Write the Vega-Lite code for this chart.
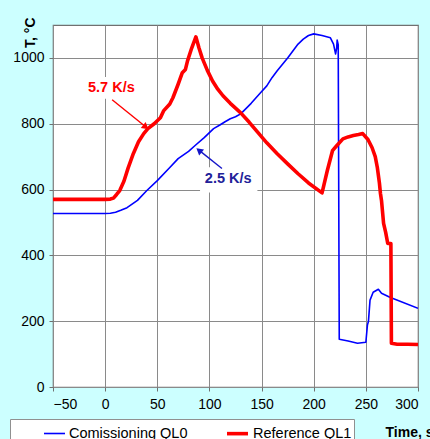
{
  "$schema": "https://vega.github.io/schema/vega-lite/v6.json",
  "width": 365,
  "height": 362,
  "autosize": {"type": "none"},
  "padding": {"left": 53, "top": 25, "right": 12, "bottom": 52},
  "background": "#CCFFFF",
  "config": {
    "font": "Liberation Sans",
    "view": {"fill": "white", "stroke": "#707070", "strokeWidth": 1.2},
    "axis": {
      "gridColor": "#8a8a8a", "gridWidth": 1, "gridOpacity": 1,
      "domain": false, "tickColor": "#707070", "tickSize": 4,
      "labelFont": "Liberation Sans", "labelFontSize": 14, "labelColor": "black",
      "titleFont": "Liberation Sans", "titleFontSize": 14, "titleFontWeight": "bold", "titleColor": "black"
    }
  },
  "datasets": {
    "curves": [
      {"t": -50, "T": 527, "s": "Comissioning QL0"},
      {"t": 0, "T": 527, "s": "Comissioning QL0"},
      {"t": 5, "T": 528, "s": "Comissioning QL0"},
      {"t": 10, "T": 531, "s": "Comissioning QL0"},
      {"t": 15, "T": 537, "s": "Comissioning QL0"},
      {"t": 21, "T": 545, "s": "Comissioning QL0"},
      {"t": 31, "T": 567, "s": "Comissioning QL0"},
      {"t": 40, "T": 597, "s": "Comissioning QL0"},
      {"t": 50, "T": 627, "s": "Comissioning QL0"},
      {"t": 62, "T": 667, "s": "Comissioning QL0"},
      {"t": 70, "T": 694, "s": "Comissioning QL0"},
      {"t": 80, "T": 716, "s": "Comissioning QL0"},
      {"t": 86, "T": 733, "s": "Comissioning QL0"},
      {"t": 95, "T": 758, "s": "Comissioning QL0"},
      {"t": 104, "T": 785, "s": "Comissioning QL0"},
      {"t": 110, "T": 796, "s": "Comissioning QL0"},
      {"t": 115, "T": 806, "s": "Comissioning QL0"},
      {"t": 120, "T": 815, "s": "Comissioning QL0"},
      {"t": 125, "T": 821, "s": "Comissioning QL0"},
      {"t": 130, "T": 830, "s": "Comissioning QL0"},
      {"t": 140, "T": 862, "s": "Comissioning QL0"},
      {"t": 149, "T": 894, "s": "Comissioning QL0"},
      {"t": 155, "T": 915, "s": "Comissioning QL0"},
      {"t": 160, "T": 940, "s": "Comissioning QL0"},
      {"t": 165, "T": 961, "s": "Comissioning QL0"},
      {"t": 175, "T": 1000, "s": "Comissioning QL0"},
      {"t": 185, "T": 1042, "s": "Comissioning QL0"},
      {"t": 190, "T": 1057, "s": "Comissioning QL0"},
      {"t": 195, "T": 1068, "s": "Comissioning QL0"},
      {"t": 200, "T": 1073, "s": "Comissioning QL0"},
      {"t": 208, "T": 1068, "s": "Comissioning QL0"},
      {"t": 216, "T": 1061, "s": "Comissioning QL0"},
      {"t": 219, "T": 1042, "s": "Comissioning QL0"},
      {"t": 221, "T": 1012, "s": "Comissioning QL0"},
      {"t": 222, "T": 1030, "s": "Comissioning QL0"},
      {"t": 222.5, "T": 1054, "s": "Comissioning QL0"},
      {"t": 223.5, "T": 1040, "s": "Comissioning QL0"},
      {"t": 224.5, "T": 145, "s": "Comissioning QL0"},
      {"t": 233, "T": 140, "s": "Comissioning QL0"},
      {"t": 242, "T": 133, "s": "Comissioning QL0"},
      {"t": 250, "T": 136, "s": "Comissioning QL0"},
      {"t": 251.5, "T": 188, "s": "Comissioning QL0"},
      {"t": 252.5, "T": 200, "s": "Comissioning QL0"},
      {"t": 254, "T": 264, "s": "Comissioning QL0"},
      {"t": 257, "T": 288, "s": "Comissioning QL0"},
      {"t": 262, "T": 297, "s": "Comissioning QL0"},
      {"t": 265, "T": 285, "s": "Comissioning QL0"},
      {"t": 273, "T": 273, "s": "Comissioning QL0"},
      {"t": 300, "T": 239, "s": "Comissioning QL0"},
      {"t": -50, "T": 570, "s": "Reference QL1"},
      {"t": 0, "T": 570, "s": "Reference QL1"},
      {"t": 5, "T": 571, "s": "Reference QL1"},
      {"t": 8, "T": 574, "s": "Reference QL1"},
      {"t": 11, "T": 585, "s": "Reference QL1"},
      {"t": 14, "T": 597, "s": "Reference QL1"},
      {"t": 18, "T": 625, "s": "Reference QL1"},
      {"t": 22, "T": 665, "s": "Reference QL1"},
      {"t": 27, "T": 709, "s": "Reference QL1"},
      {"t": 32, "T": 745, "s": "Reference QL1"},
      {"t": 37, "T": 770, "s": "Reference QL1"},
      {"t": 41, "T": 785, "s": "Reference QL1"},
      {"t": 47, "T": 800, "s": "Reference QL1"},
      {"t": 53, "T": 818, "s": "Reference QL1"},
      {"t": 56, "T": 839, "s": "Reference QL1"},
      {"t": 62, "T": 860, "s": "Reference QL1"},
      {"t": 65, "T": 879, "s": "Reference QL1"},
      {"t": 70, "T": 920, "s": "Reference QL1"},
      {"t": 74, "T": 955, "s": "Reference QL1"},
      {"t": 77, "T": 965, "s": "Reference QL1"},
      {"t": 79, "T": 991, "s": "Reference QL1"},
      {"t": 83, "T": 1030, "s": "Reference QL1"},
      {"t": 87, "T": 1064, "s": "Reference QL1"},
      {"t": 90, "T": 1030, "s": "Reference QL1"},
      {"t": 93, "T": 1000, "s": "Reference QL1"},
      {"t": 98, "T": 962, "s": "Reference QL1"},
      {"t": 103, "T": 930, "s": "Reference QL1"},
      {"t": 108, "T": 905, "s": "Reference QL1"},
      {"t": 113, "T": 885, "s": "Reference QL1"},
      {"t": 120, "T": 862, "s": "Reference QL1"},
      {"t": 130, "T": 833, "s": "Reference QL1"},
      {"t": 138, "T": 805, "s": "Reference QL1"},
      {"t": 146, "T": 775, "s": "Reference QL1"},
      {"t": 155, "T": 742, "s": "Reference QL1"},
      {"t": 165, "T": 709, "s": "Reference QL1"},
      {"t": 175, "T": 678, "s": "Reference QL1"},
      {"t": 185, "T": 648, "s": "Reference QL1"},
      {"t": 195, "T": 620, "s": "Reference QL1"},
      {"t": 208, "T": 590, "s": "Reference QL1"},
      {"t": 213, "T": 657, "s": "Reference QL1"},
      {"t": 218, "T": 718, "s": "Reference QL1"},
      {"t": 222, "T": 733, "s": "Reference QL1"},
      {"t": 228, "T": 754, "s": "Reference QL1"},
      {"t": 233, "T": 760, "s": "Reference QL1"},
      {"t": 238, "T": 764, "s": "Reference QL1"},
      {"t": 243, "T": 767, "s": "Reference QL1"},
      {"t": 247, "T": 770, "s": "Reference QL1"},
      {"t": 252, "T": 752, "s": "Reference QL1"},
      {"t": 256, "T": 727, "s": "Reference QL1"},
      {"t": 259, "T": 700, "s": "Reference QL1"},
      {"t": 261, "T": 667, "s": "Reference QL1"},
      {"t": 263, "T": 620, "s": "Reference QL1"},
      {"t": 264, "T": 588, "s": "Reference QL1"},
      {"t": 265, "T": 567, "s": "Reference QL1"},
      {"t": 267, "T": 497, "s": "Reference QL1"},
      {"t": 269, "T": 470, "s": "Reference QL1"},
      {"t": 271, "T": 436, "s": "Reference QL1"},
      {"t": 274, "T": 436, "s": "Reference QL1"},
      {"t": 274.5, "T": 133, "s": "Reference QL1"},
      {"t": 280, "T": 130, "s": "Reference QL1"},
      {"t": 290, "T": 130, "s": "Reference QL1"},
      {"t": 300, "T": 129, "s": "Reference QL1"}
    ]
  },
  "encoding": {
    "x": {"type": "quantitative"},
    "y": {"type": "quantitative"}
  },
  "layer": [
    {
      "data": {"values": [
        {"t1": -18, "t2": 31, "T1": 876, "T2": 942},
        {"t1": 91, "t2": 146, "T1": 591, "T2": 668}
      ]},
      "mark": {"type": "rect", "color": "white"},
      "encoding": {
        "x": {"field": "t1", "type": "quantitative", "scale": {"domain": [-50, 300], "nice": false, "zero": false},
          "axis": {"values": [-50, 0, 50, 100, 150, 200, 250, 300], "format": "d", "title": "Time, s", "labelPadding": 6,
            "titleX": 332, "titleY": 45, "titleAlign": "left", "titleBaseline": "middle", "titleAnchor": "start"}},
        "x2": {"field": "t2"},
        "y": {"field": "T1", "type": "quantitative", "scale": {"domain": [0, 1100], "nice": false},
          "axis": {"values": [0, 200, 400, 600, 800, 1000], "format": "d", "title": "T, °C", "labelPadding": 5,
            "titleX": -23, "titleY": -8, "titleAlign": "right", "titleBaseline": "middle", "titleAngle": -90}},
        "y2": {"field": "T2"}
      }
    },
    {
      "data": {"name": "curves"},
      "mark": {"type": "line", "clip": true, "strokeJoin": "round"},
      "encoding": {
        "x": {"field": "t", "type": "quantitative"},
        "y": {"field": "T", "type": "quantitative"},
        "color": {"field": "s", "type": "nominal",
          "scale": {"domain": ["Comissioning QL0", "Reference QL1"], "range": ["#0000FF", "#FF0000"]},
          "legend": {"title": null, "orient": "none", "legendX": -43, "legendY": 394, "direction": "horizontal",
            "fillColor": "white", "strokeColor": "#909090", "padding": 2, "symbolType": "stroke",
            "symbolSize": 441, "symbolStrokeWidth": 2.5, "symbolOffset": 31, "labelOffset": 3,
            "columnPadding": 6, "labelFontSize": 14.5, "labelFont": "Liberation Sans", "labelColor": "black"}},
        "strokeWidth": {"field": "s", "type": "nominal",
          "scale": {"domain": ["Comissioning QL0", "Reference QL1"], "range": [1.6, 3.6]}, "legend": null}
      }
    },
    {
      "data": {"values": [{"t": 6.7, "T": 873}, {"t": 40, "T": 788}]},
      "mark": {"type": "line", "color": "#FF0000", "strokeWidth": 1.4},
      "encoding": {"x": {"field": "t", "type": "quantitative"}, "y": {"field": "T", "type": "quantitative"}}
    },
    {
      "data": {"values": [{"t": 39, "T": 790}]},
      "mark": {"type": "point", "shape": "triangle-up", "filled": true, "color": "#FF0000", "size": 60, "angle": 129, "opacity": 1},
      "encoding": {"x": {"field": "t", "type": "quantitative"}, "y": {"field": "T", "type": "quantitative"}}
    },
    {
      "data": {"values": [{"t": 112, "T": 664}, {"t": 89, "T": 722}]},
      "mark": {"type": "line", "color": "#1515C8", "strokeWidth": 1.4},
      "encoding": {"x": {"field": "t", "type": "quantitative"}, "y": {"field": "T", "type": "quantitative"}}
    },
    {
      "data": {"values": [{"t": 90, "T": 719}]},
      "mark": {"type": "point", "shape": "triangle-up", "filled": true, "color": "#1515C8", "size": 60, "angle": 309, "opacity": 1},
      "encoding": {"x": {"field": "t", "type": "quantitative"}, "y": {"field": "T", "type": "quantitative"}}
    },
    {
      "data": {"values": [{"t": 6, "T": 909, "label": "5.7 K/s"}]},
      "mark": {"type": "text", "color": "#FF0000", "fontWeight": "bold", "fontSize": 14.5, "font": "Liberation Sans", "align": "center", "baseline": "middle"},
      "encoding": {"x": {"field": "t", "type": "quantitative"}, "y": {"field": "T", "type": "quantitative"}, "text": {"field": "label"}}
    },
    {
      "data": {"values": [{"t": 118, "T": 633, "label": "2.5 K/s"}]},
      "mark": {"type": "text", "color": "#222299", "fontWeight": "bold", "fontSize": 14.5, "font": "Liberation Sans", "align": "center", "baseline": "middle"},
      "encoding": {"x": {"field": "t", "type": "quantitative"}, "y": {"field": "T", "type": "quantitative"}, "text": {"field": "label"}}
    }
  ]
}
